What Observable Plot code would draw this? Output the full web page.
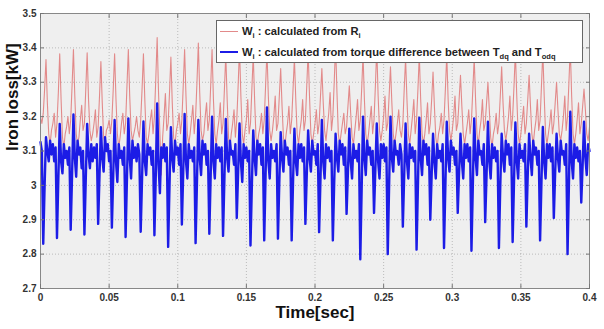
<!DOCTYPE html>
<html><head><meta charset="utf-8">
<script src="https://cdn.jsdelivr.net/npm/d3@7"></script>
<script src="https://cdn.jsdelivr.net/npm/@observablehq/plot@0.6"></script>
<style>
body{margin:0;background:#fff;font-family:"Liberation Sans",Arial,sans-serif;}
#wrap{position:relative;width:604px;height:329px;}
#legend{position:absolute;left:216px;top:20px;width:367px;height:43px;background:#fff;border:1px solid #666;box-sizing:border-box;font:bold 11.2px "Liberation Sans",Arial,sans-serif;color:#222;}
.row{position:absolute;left:0;height:14px;line-height:14px;white-space:nowrap;}
.sw{position:absolute;left:3px;width:18px;top:7px;}
.tx{position:absolute;left:25px;top:0;}
sub{font-size:7.5px;vertical-align:-3px;line-height:0;}
</style></head>
<body><div id="wrap"></div>
<script>
// sampling step of the recorded signal (seconds)
const sampleStep = 0.001;
const xTicks = [0, 0.05, 0.1, 0.15, 0.2, 0.25, 0.3, 0.35, 0.4];
const yTicks = [2.7, 2.8, 2.9, 3.0, 3.1, 3.2, 3.3, 3.4, 3.5];
const seriesNames = ["calculated from R", "calculated from torque difference"];

// W_i calculated from R_i (red)
const redValues = [
 3.20, 3.18,
 3.21, 3.28, 3.366, 3.24, 3.15, 3.12, 3.16, 3.18, 3.21, 3.14,
 3.18, 3.27, 3.383, 3.25, 3.14, 3.11, 3.15, 3.17, 3.20, 3.15,
 3.19, 3.29, 3.395, 3.26, 3.15, 3.12, 3.14, 3.19, 3.233, 3.16,
 3.18, 3.28, 3.386, 3.25, 3.16, 3.13, 3.15, 3.18, 3.22, 3.14,
 3.17, 3.26, 3.36, 3.24, 3.14, 3.12, 3.16, 3.17, 3.19, 3.15,
 3.19, 3.28, 3.383, 3.25, 3.15, 3.11, 3.14, 3.18, 3.21, 3.15,
 3.18, 3.29, 3.395, 3.26, 3.16, 3.13, 3.15, 3.17, 3.20, 3.16, 3.14,
 3.19, 3.28, 3.383, 3.25, 3.14, 3.12, 3.15, 3.19, 3.22, 3.15,
 3.20, 3.31, 3.43, 3.27, 3.15, 3.03, 3.14, 3.20, 3.267, 3.16,
 3.18, 3.27, 3.373, 3.24, 3.14, 3.12, 3.16, 3.18, 3.21, 3.15,
 3.19, 3.29, 3.395, 3.26, 3.15, 3.12, 3.15, 3.19, 3.233, 3.15,
 3.20, 3.30, 3.414, 3.27, 3.16, 3.13, 3.15, 3.20, 3.24, 3.16,
 3.19, 3.29, 3.395, 3.25, 3.15, 3.12, 3.16, 3.19, 3.24, 3.15,
 3.18, 3.28, 3.38, 3.25, 3.14, 3.11, 3.15, 3.18, 3.22, 3.14,
 3.19, 3.29, 3.40, 3.26, 3.15, 3.12, 3.16, 3.19, 3.25, 3.15,
 3.18, 3.28, 3.38, 3.25, 3.14, 3.12, 3.15, 3.17, 3.21, 3.15,
 3.19, 3.29, 3.39, 3.26, 3.16, 3.13, 3.16, 3.20, 3.26, 3.16,
 3.18, 3.26, 3.34, 3.23, 3.14, 3.11, 3.15, 3.18, 3.23, 3.15,
 3.19, 3.28, 3.37, 3.25, 3.15, 3.12, 3.16, 3.19, 3.25, 3.16,
 3.19, 3.29, 3.39, 3.26, 3.15, 3.12, 3.15, 3.18, 3.22, 3.15,
 3.18, 3.26, 3.34, 3.24, 3.16, 3.13, 3.17, 3.21, 3.27, 3.16,
 3.20, 3.30, 3.41, 3.27, 3.15, 3.12, 3.15, 3.18, 3.21, 3.15,
 3.17, 3.23, 3.29, 3.21, 3.14, 3.12, 3.16, 3.20, 3.25, 3.16,
 3.19, 3.28, 3.38, 3.25, 3.15, 3.12, 3.15, 3.19, 3.23, 3.15,
 3.19, 3.29, 3.40, 3.26, 3.16, 3.13, 3.16, 3.20, 3.26, 3.16,
 3.18, 3.26, 3.345, 3.24, 3.15, 3.12, 3.15, 3.18, 3.22, 3.16, 3.14,
 3.18, 3.28, 3.37, 3.25, 3.15, 3.12, 3.16, 3.20, 3.25, 3.15,
 3.19, 3.28, 3.38, 3.25, 3.15, 3.12, 3.15, 3.19, 3.24, 3.15,
 3.18, 3.25, 3.33, 3.23, 3.14, 3.11, 3.15, 3.17, 3.21, 3.15,
 3.19, 3.28, 3.38, 3.25, 3.16, 3.13, 3.16, 3.20, 3.26, 3.16,
 3.18, 3.25, 3.32, 3.23, 3.15, 3.12, 3.15, 3.18, 3.22, 3.15,
 3.19, 3.28, 3.37, 3.25, 3.15, 3.12, 3.16, 3.19, 3.25, 3.16,
 3.18, 3.24, 3.30, 3.22, 3.14, 3.11, 3.15, 3.17, 3.21, 3.15,
 3.18, 3.26, 3.345, 3.24, 3.16, 3.13, 3.16, 3.20, 3.26, 3.16,
 3.20, 3.29, 3.39, 3.26, 3.15, 3.12, 3.15, 3.19, 3.23, 3.15,
 3.18, 3.25, 3.32, 3.23, 3.15, 3.12, 3.16, 3.19, 3.25, 3.16,
 3.19, 3.29, 3.39, 3.26, 3.15, 3.12, 3.15, 3.18, 3.22, 3.15,
 3.18, 3.24, 3.30, 3.22, 3.15, 3.13, 3.16, 3.20, 3.26, 3.16,
 3.20, 3.30, 3.40, 3.26, 3.15, 3.12, 3.15, 3.19, 3.24, 3.15,
 3.18, 3.23, 3.28, 3.22, 3.15, 3.13, 3.17
];

// W_i calculated from torque difference (blue)
const blueValues = [
 3.126, 3.10,
 2.83, 3.00, 3.14, 3.10, 3.07, 3.13, 3.09, 3.12, 3.07, 3.11,
 2.847, 3.02, 3.179, 3.07, 3.035, 3.12, 3.08, 3.10, 3.06, 3.11,
 2.871, 3.03, 3.206, 3.08, 3.025, 3.13, 3.09, 3.11, 3.05, 3.10,
 2.857, 3.02, 3.179, 3.09, 3.05, 3.12, 3.07, 3.11, 3.08, 3.12,
 2.888, 3.03, 3.169, 3.08, 3.04, 3.14, 3.10, 3.12, 3.07, 3.10,
 2.877, 3.03, 3.19, 3.07, 3.01, 3.12, 3.08, 3.10, 3.06, 3.11,
 2.85, 3.02, 3.195, 3.08, 3.02, 3.13, 3.08, 3.11, 3.07, 3.12, 3.09,
 2.865, 3.02, 3.186, 3.07, 3.03, 3.12, 3.09, 3.11, 3.06, 3.10,
 2.855, 3.03, 3.238, 3.06, 2.977, 3.11, 3.08, 3.12, 3.07, 3.11,
 2.821, 3.00, 3.169, 3.08, 3.04, 3.13, 3.09, 3.11, 3.06, 3.12,
 2.886, 3.04, 3.208, 3.07, 3.02, 3.12, 3.08, 3.10, 3.07, 3.11,
 2.832, 3.01, 3.19, 3.08, 3.03, 3.13, 3.09, 3.12, 3.06, 3.10,
 2.859, 3.03, 3.20, 3.07, 3.02, 3.12, 3.08, 3.11, 3.07, 3.11,
 2.853, 3.02, 3.193, 3.08, 3.04, 3.13, 3.09, 3.10, 3.06, 3.12,
 2.905, 3.04, 3.18, 3.07, 3.01, 3.12, 3.08, 3.11, 3.07, 3.10,
 2.825, 3.00, 3.16, 3.08, 3.03, 3.13, 3.09, 3.12, 3.06, 3.11,
 2.84, 3.03, 3.227, 3.07, 3.02, 3.12, 3.08, 3.10, 3.07, 3.12,
 2.845, 3.01, 3.155, 3.08, 3.04, 3.13, 3.09, 3.11, 3.06, 3.10,
 2.84, 3.01, 3.165, 3.07, 3.03, 3.12, 3.08, 3.12, 3.07, 3.11,
 2.888, 3.03, 3.16, 3.08, 3.04, 3.13, 3.09, 3.10, 3.06, 3.12,
 2.864, 3.02, 3.19, 3.07, 3.02, 3.12, 3.08, 3.11, 3.07, 3.10,
 2.84, 3.01, 3.15, 3.08, 3.04, 3.13, 3.09, 3.12, 3.06, 3.11,
 2.917, 3.04, 3.165, 3.07, 3.02, 3.12, 3.08, 3.10, 3.07, 3.12,
 2.785, 2.99, 3.20, 3.08, 3.03, 3.13, 3.09, 3.11, 3.06, 3.10,
 2.92, 3.05, 3.18, 3.07, 3.02, 3.12, 3.08, 3.12, 3.07, 3.11,
 2.80, 3.00, 3.20, 3.08, 3.04, 3.13, 3.09, 3.10, 3.06, 3.12, 3.09,
 2.88, 3.03, 3.18, 3.07, 3.02, 3.12, 3.08, 3.11, 3.07, 3.10,
 2.813, 3.00, 3.197, 3.08, 3.03, 3.13, 3.09, 3.12, 3.06, 3.11,
 2.90, 3.03, 3.15, 3.07, 3.02, 3.12, 3.08, 3.10, 3.07, 3.12,
 2.818, 3.00, 3.185, 3.08, 3.04, 3.13, 3.09, 3.11, 3.06, 3.10,
 2.92, 3.04, 3.15, 3.07, 3.02, 3.12, 3.08, 3.12, 3.07, 3.11,
 2.81, 3.00, 3.195, 3.08, 3.03, 3.13, 3.09, 3.10, 3.06, 3.12,
 2.893, 3.03, 3.185, 3.07, 3.02, 3.12, 3.08, 3.11, 3.07, 3.10,
 2.818, 3.00, 3.15, 3.08, 3.04, 3.13, 3.09, 3.12, 3.06, 3.11,
 2.835, 3.01, 3.183, 3.07, 3.02, 3.12, 3.08, 3.10, 3.07, 3.12,
 2.88, 3.03, 3.15, 3.08, 3.03, 3.13, 3.09, 3.11, 3.06, 3.10,
 2.84, 3.01, 3.17, 3.07, 3.02, 3.12, 3.08, 3.12, 3.07, 3.11,
 2.905, 3.04, 3.15, 3.08, 3.04, 3.13, 3.09, 3.10, 3.06, 3.12,
 2.80, 3.00, 3.214, 3.07, 3.02, 3.12, 3.08, 3.11, 3.07, 3.10,
 2.95, 3.06, 3.185, 3.08, 3.03, 3.12, 3.10
];

const redData = redValues.map((v, i) => ({t: i * sampleStep, v}));
const blueData = blueValues.map((v, i) => ({t: i * sampleStep, v}));

const fmt = d => String(+d.toFixed(2));
const tickStyle = {fontWeight: "bold", fontSize: 10, fill: "#333"};

const chart = Plot.plot({
  width: 604, height: 329,
  marginLeft: 40, marginRight: 15, marginTop: 13, marginBottom: 41,
  style: {fontFamily: "'Liberation Sans', Arial, sans-serif", background: "#fff", overflow: "visible"},
  x: {domain: [0, 0.4]},
  y: {domain: [2.7, 3.5]},
  marks: [
    Plot.frame({fill: "#efefef"}),
    Plot.gridX(xTicks, {stroke: "#888", strokeOpacity: 0.5, strokeDasharray: "1,2"}),
    Plot.gridY(yTicks, {stroke: "#888", strokeOpacity: 0.5, strokeDasharray: "1,2"}),
    Plot.line(redData, {x: "t", y: "v", stroke: "#e28a8a", strokeWidth: 1.1}),
    Plot.line(blueData, {x: "t", y: "v", stroke: "#1c1ce6", strokeWidth: 2.4}),
    Plot.frame({stroke: "#888", strokeWidth: 1}),
    Plot.axisX({ticks: xTicks, tickSize: 0, tickPadding: 5, tickFormat: fmt, label: null, ...tickStyle}),
    Plot.axisY({ticks: yTicks, tickSize: 0, tickPadding: 4, tickFormat: fmt, label: null, ...tickStyle}),
    Plot.axisX({ticks: xTicks, tickSize: -4, text: null, label: null, stroke: "#777"}),
    Plot.axisX({anchor: "top", ticks: xTicks, tickSize: -4, text: null, label: null, stroke: "#777"}),
    Plot.axisY({ticks: yTicks, tickSize: -4, text: null, label: null, stroke: "#777"}),
    Plot.axisY({anchor: "right", ticks: yTicks, tickSize: -4, text: null, label: null, stroke: "#777"}),
    Plot.text(["Time[sec]"], {frameAnchor: "bottom", dy: 24, lineAnchor: "middle", fontWeight: "bold", fontSize: 17, fill: "#111"}),
    Plot.text(["Iron loss[kW]"], {frameAnchor: "left", dx: -23, rotate: -90, lineAnchor: "bottom", fontWeight: "bold", fontSize: 17, fill: "#111"})
  ]
});

const wrap = document.getElementById("wrap");
wrap.appendChild(chart);
const legend = document.createElement("div");
legend.id = "legend";
legend.innerHTML = `
 <div class="row" style="top:3px;width:100%"><div class="sw" style="border-top:1px solid #e28a8a"></div><div class="tx">W<sub>i</sub> : ${seriesNames[0]}<sub>i</sub></div></div>
 <div class="row" style="top:24px;width:100%"><div class="sw" style="border-top:2px solid #1c1ce6;top:6px"></div><div class="tx">W<sub>i</sub> : ${seriesNames[1]} between T<sub>dq</sub> and T<sub>odq</sub></div></div>`;
wrap.appendChild(legend);
</script>
</body></html>
